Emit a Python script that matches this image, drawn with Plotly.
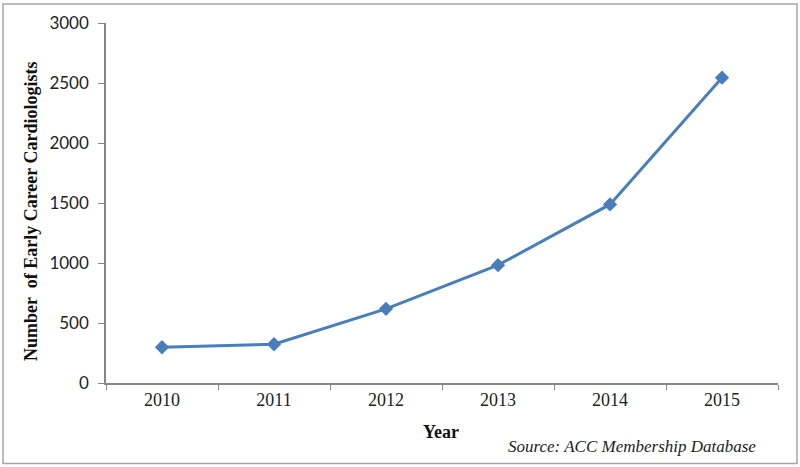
import plotly.graph_objects as go

years = ["2010", "2011", "2012", "2013", "2014", "2015"]
cardiologists = [298, 323, 618, 982, 1488, 2544]
y_ticks = [0, 500, 1000, 1500, 2000, 2500, 3000]

L, R, T, B = 106, 22, 21, 84
W, H = 800, 467
pw, ph = W - L - R, H - T - B

def px(x):
    return (x - L) / pw

def py(y):
    return (H - B - y) / ph

fig = go.Figure()
fig.add_trace(go.Scatter(
    x=years, y=cardiologists, mode="lines+markers",
    line=dict(color="#4a7ebb", width=3),
    marker=dict(symbol="diamond", size=11, color="#4a7ebb"),
    showlegend=False,
))

fig.update_layout(
    width=W, height=H,
    margin=dict(l=L, r=R, t=T, b=B),
    paper_bgcolor="white", plot_bgcolor="white",
    xaxis=dict(
        type="category", showgrid=False, showline=True, linecolor="#868686", linewidth=1.5,
        ticks="outside", tickson="boundaries", ticklen=5, tickcolor="#868686",
        tickfont=dict(family="Liberation Serif", size=18, color="#222"),
        range=[-0.5, 5.5],
    ),
    yaxis=dict(
        range=[0, 3000], tickvals=y_ticks, showgrid=False, zeroline=False,
        showline=True, linecolor="#868686", linewidth=1.5,
        ticks="outside", ticklen=6, tickcolor="#868686",
        tickfont=dict(family="Lato", size=17, color="#222"),
        ticklabelstandoff=6,
    ),
    annotations=[
        dict(text="<b>Number  of Early Career Cardiologists</b>", x=px(31), y=py(211),
             xref="paper", yref="paper", showarrow=False, textangle=-90,
             font=dict(family="Liberation Serif", size=18, color="#111"),
             xanchor="center", yanchor="middle"),
        dict(text="<b>Year</b>", x=px(441), y=py(432), xref="paper", yref="paper",
             showarrow=False, font=dict(family="Liberation Serif", size=18, color="#111"),
             xanchor="center", yanchor="middle"),
        dict(text="<i>Source: ACC Membership Database</i>", x=px(632), y=py(447),
             xref="paper", yref="paper", showarrow=False,
             font=dict(family="Liberation Serif", size=17, color="#222"),
             xanchor="center", yanchor="middle"),
    ],
    shapes=[
        dict(type="rect", xref="paper", yref="paper",
             x0=px(3), x1=px(797), y0=py(464), y1=py(2),
             line=dict(color="#a6a6a6", width=1.5), fillcolor="rgba(0,0,0,0)", layer="below"),
    ],
)

fig.write_html("out.html", config={"displayModeBar": False},
               post_script="document.body.style.margin='0';document.body.style.overflow='hidden';")
